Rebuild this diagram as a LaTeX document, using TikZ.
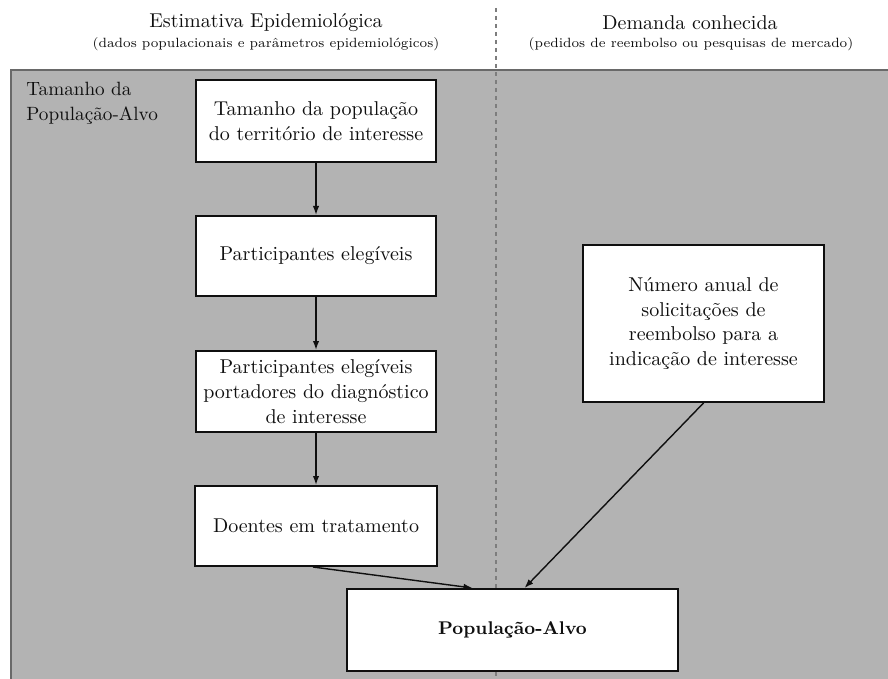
\documentclass[tikz,border=0pt]{standalone}
\usetikzlibrary{arrows.meta,calc}
\definecolor{panelgrey}{RGB}{179,179,179}
\definecolor{paneledge}{RGB}{105,105,105}
\definecolor{dashgrey}{RGB}{125,125,125}
\definecolor{ink}{RGB}{15,15,15}
\tikzset{
  box/.style={draw=ink, fill=white, line width=1pt, align=center, inner sep=0pt,
    text=ink, font=\fontsize{10}{12.4}\selectfont},
  title/.style={text=ink, font=\fontsize{10}{12}\selectfont, inner sep=0pt},
  subtitle/.style={text=ink, font=\fontsize{6.7}{8}\selectfont, inner sep=0pt},
  flow/.style={draw=ink, line width=0.7pt, -{Latex[length=4.5pt,width=3.2pt]}},
}
\begin{document}
\begin{tikzpicture}[x=0.5pt,y=-0.5pt]
\useasboundingbox (0,0) rectangle (888,679);
% grey panel
\fill[panelgrey] (11,70) rectangle (888,679);
\draw[paneledge, line width=1pt] (11,679) -- (11,70) -- (888,70);
% dashed divider
\coordinate (dtop) at (496,8);
\coordinate (dbot) at (496,679);
\draw[dashgrey, line width=0.7pt, dash pattern=on 2pt off 2pt] (dtop) -- (dbot);
% titles
\node[title] (t1) at (266,23) {Estimativa Epidemiológica};
\node[subtitle] (s1) at (266,44) {(dados populacionais e parâmetros epidemiológicos)};
\node[title] (t2) at (690,23) {Demanda conhecida};
\node[subtitle] (s2) at (691,44) {(pedidos de reembolso ou pesquisas de mercado)};
% panel label
\node[text=ink, font=\fontsize{9.6}{12.4}\selectfont, align=left, anchor=north west, inner sep=0pt] (lab) at (26,82) {Tamanho da\\População-Alvo};
% boxes
\node[box, minimum width=120pt, minimum height=41pt] (b1) at (316,121) {Tamanho da população\\do território de interesse};
\node[box, minimum width=120pt, minimum height=40pt] (b2) at (316,256) {Participantes elegíveis};
\node[box, minimum width=120pt, minimum height=40.5pt] (b3) at (316,391.5) {Participantes elegíveis\\portadores do diagnóstico\\de interesse};
\node[box, minimum width=121pt, minimum height=40pt] (b4) at (316,526) {Doentes em tratamento};
\node[box, minimum width=165.5pt, minimum height=41pt, font=\fontsize{9.2}{12}\selectfont\bfseries] (b5) at (512.5,630) {População-Alvo};
\node[box, minimum width=120.5pt, minimum height=78.5pt] (b6) at (703.5,323.5) {Número anual de\\solicitações de\\reembolso para a\\indicação de interesse};
% connectors
\draw[flow] (b1.south) -- (b2.north);
\draw[flow] (b2.south) -- (b3.north);
\draw[flow] (b3.south) -- (b4.north);
\coordinate (in1) at ($(b5.north)+(-40,0)$);
\coordinate (in2) at ($(b5.north)+(12,0)$);
\coordinate (out4) at ($(b4.south)+(-3,0)$);
\draw[flow] (out4) -- (in1);
\draw[flow] (b6.south) -- (in2);
\end{tikzpicture}
\end{document}
